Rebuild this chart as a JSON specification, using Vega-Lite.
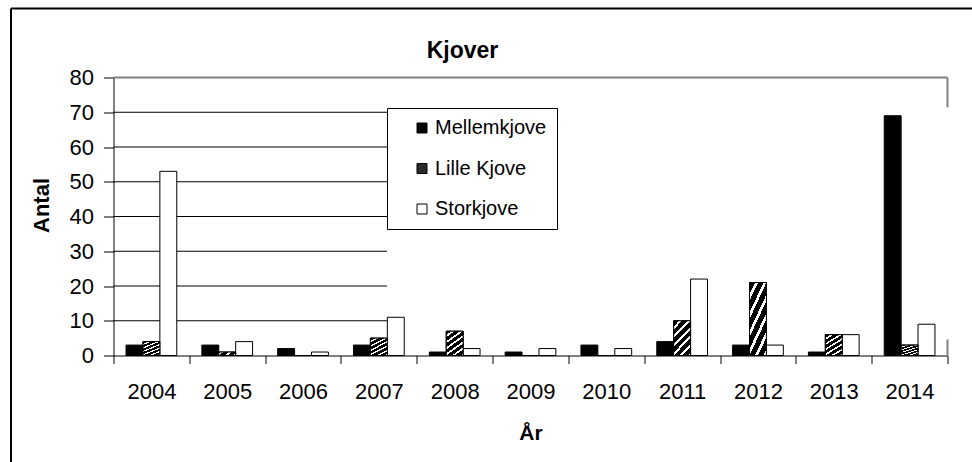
{
  "$schema": "https://vega.github.io/schema/vega-lite/v6.json",
  "width": 834,
  "height": 278,
  "autosize": {"type": "none"},
  "padding": {"left": 113.5, "top": 77.5, "right": 25, "bottom": 107},
  "background": "white",
  "config": {
    "font": "Liberation Sans",
    "view": {"stroke": null},
    "axisY": {"tickCount": 8, "grid": false, "labelOverlap": false, "tickSize": 10, "tickColor": "black", "domainColor": "black",
              "labelFontSize": 22, "labelColor": "black", "labelPadding": 10,
              "titleFontSize": 22, "titleFontWeight": "bold", "titleColor": "black", "titlePadding": 16, "titleY": 127.5},
    "axisX": {"titleFontSize": 21, "titleFontWeight": "bold", "titleColor": "black", "titlePadding": 20,
              "labelAngle": 0, "labelFontSize": 22, "labelColor": "black", "labelPadding": 18,
              "tickBand": "extent", "tickSize": 8, "tickColor": "black", "domainColor": "black", "grid": false}
  },
  "title": {"text": "Kjover", "fontSize": 23, "fontWeight": "bold", "color": "black", "anchor": "middle", "frame": "group", "baseline": "alphabetic", "offset": -73.5, "dx": -68},
  "datasets": {
    "kjover": [
      {"year": "2004", "series": "Mellemkjove", "value": 3}, {"year": "2004", "series": "Lille Kjove", "value": 4}, {"year": "2004", "series": "Storkjove", "value": 53},
      {"year": "2005", "series": "Mellemkjove", "value": 3}, {"year": "2005", "series": "Lille Kjove", "value": 1}, {"year": "2005", "series": "Storkjove", "value": 4},
      {"year": "2006", "series": "Mellemkjove", "value": 2}, {"year": "2006", "series": "Lille Kjove", "value": 0}, {"year": "2006", "series": "Storkjove", "value": 1},
      {"year": "2007", "series": "Mellemkjove", "value": 3}, {"year": "2007", "series": "Lille Kjove", "value": 5}, {"year": "2007", "series": "Storkjove", "value": 11},
      {"year": "2008", "series": "Mellemkjove", "value": 1}, {"year": "2008", "series": "Lille Kjove", "value": 7}, {"year": "2008", "series": "Storkjove", "value": 2},
      {"year": "2009", "series": "Mellemkjove", "value": 1}, {"year": "2009", "series": "Lille Kjove", "value": 0}, {"year": "2009", "series": "Storkjove", "value": 2},
      {"year": "2010", "series": "Mellemkjove", "value": 3}, {"year": "2010", "series": "Lille Kjove", "value": 0}, {"year": "2010", "series": "Storkjove", "value": 2},
      {"year": "2011", "series": "Mellemkjove", "value": 4}, {"year": "2011", "series": "Lille Kjove", "value": 10}, {"year": "2011", "series": "Storkjove", "value": 22},
      {"year": "2012", "series": "Mellemkjove", "value": 3}, {"year": "2012", "series": "Lille Kjove", "value": 21}, {"year": "2012", "series": "Storkjove", "value": 3},
      {"year": "2013", "series": "Mellemkjove", "value": 1}, {"year": "2013", "series": "Lille Kjove", "value": 6}, {"year": "2013", "series": "Storkjove", "value": 6},
      {"year": "2014", "series": "Mellemkjove", "value": 69}, {"year": "2014", "series": "Lille Kjove", "value": 3}, {"year": "2014", "series": "Storkjove", "value": 9}
    ]
  },
  "layer": [
    {
      "data": {"values": [{"g": 10}, {"g": 20}, {"g": 30}, {"g": 40}, {"g": 50}, {"g": 60}, {"g": 70}]},
      "mark": {"type": "rule", "color": "black", "strokeWidth": 1},
      "encoding": {
        "x": {"datum": 0, "type": "quantitative", "scale": {"domain": [0, 11]}, "axis": null},
        "x2": {"datum": 3.607},
        "y": {"field": "g", "type": "quantitative", "scale": {"domain": [0, 80], "nice": false}, "title": "Antal"}
      }
    },
    {
      "data": {"name": "kjover"},
      "mark": {"type": "bar", "stroke": "black", "strokeWidth": 1},
      "encoding": {
        "x": {"field": "year", "type": "nominal", "scale": {"paddingInner": 0, "paddingOuter": 0}, "title": "År"},
        "xOffset": {"field": "series", "scale": {"domain": ["Mellemkjove", "Lille Kjove", "Storkjove"], "paddingInner": 0, "paddingOuter": 0.742}},
        "y": {"field": "value", "type": "quantitative", "scale": {"domain": [0, 80], "nice": false}, "title": "Antal"},
        "fill": {
          "field": "series", "type": "nominal",
          "scale": {"domain": ["Mellemkjove", "Lille Kjove", "Storkjove"], "range": ["black", "#2b2b2b", "white"]},
          "legend": {
            "title": null, "orient": "none", "legendX": 273.5, "legendY": 30.5,
            "fillColor": "white", "strokeColor": "black", "padding": 10,
            "symbolType": "square", "symbolSize": 100, "symbolStrokeColor": "black", "symbolStrokeWidth": 1, "symbolOpacity": 1,
            "symbolOffset": 15, "labelOffset": 3, "labelFontSize": 20, "labelColor": "black", "rowPadding": 20.5,
            "encode": {"symbols": {"update": {"stroke": {"value": "black"}, "strokeWidth": {"value": 1}}}}
          }
        }
      }
    },
    {
      "data": {"name": "kjover"},
      "transform": [{"filter": "datum.series === 'Lille Kjove'"}],
      "mark": {"type": "bar", "stroke": "black", "strokeWidth": 1,
               "fill": {"gradient": "linear", "x1": 0, "y1": 0, "x2": 1, "y2": 2, "stops": [
                {"offset": 0, "color": "black"}, {"offset": 0.065, "color": "black"}, {"offset": 0.065, "color": "white"}, {"offset": 0.1, "color": "white"},
                {"offset": 0.1, "color": "black"}, {"offset": 0.165, "color": "black"}, {"offset": 0.165, "color": "white"}, {"offset": 0.2, "color": "white"},
                {"offset": 0.2, "color": "black"}, {"offset": 0.265, "color": "black"}, {"offset": 0.265, "color": "white"}, {"offset": 0.3, "color": "white"},
                {"offset": 0.3, "color": "black"}, {"offset": 0.365, "color": "black"}, {"offset": 0.365, "color": "white"}, {"offset": 0.4, "color": "white"},
                {"offset": 0.4, "color": "black"}, {"offset": 0.465, "color": "black"}, {"offset": 0.465, "color": "white"}, {"offset": 0.5, "color": "white"},
                {"offset": 0.5, "color": "black"}, {"offset": 0.565, "color": "black"}, {"offset": 0.565, "color": "white"}, {"offset": 0.6, "color": "white"},
                {"offset": 0.6, "color": "black"}, {"offset": 0.665, "color": "black"}, {"offset": 0.665, "color": "white"}, {"offset": 0.7, "color": "white"},
                {"offset": 0.7, "color": "black"}, {"offset": 1, "color": "black"}
              ]}},
      "encoding": {
        "x": {"field": "year", "type": "nominal", "scale": {"paddingInner": 0, "paddingOuter": 0}, "axis": null},
        "xOffset": {"field": "series", "scale": {"domain": ["Mellemkjove", "Lille Kjove", "Storkjove"], "paddingInner": 0, "paddingOuter": 0.742}},
        "y": {"field": "value", "type": "quantitative", "scale": {"domain": [0, 80], "nice": false}, "title": "Antal"}
      }
    },
    {
      "data": {"values": [{}]},
      "mark": {"type": "rule", "color": "#808080", "strokeWidth": 2},
      "encoding": {
        "x": {"datum": 0, "type": "quantitative", "scale": {"domain": [0, 11]}, "axis": null},
        "x2": {"datum": 11},
        "y": {"datum": 80, "type": "quantitative", "scale": {"domain": [0, 80], "nice": false}, "title": "Antal"}
      }
    },
    {
      "data": {"values": [{}]},
      "mark": {"type": "rule", "color": "#808080", "strokeWidth": 2},
      "encoding": {
        "x": {"datum": 11, "type": "quantitative", "scale": {"domain": [0, 11]}, "axis": null},
        "y": {"datum": 71.4, "type": "quantitative", "scale": {"domain": [0, 80], "nice": false}, "title": "Antal"},
        "y2": {"datum": 80}
      }
    },
    {
      "data": {"values": [{}]},
      "mark": {"type": "rule", "color": "#808080", "strokeWidth": 2},
      "encoding": {
        "x": {"datum": 11, "type": "quantitative", "scale": {"domain": [0, 11]}, "axis": null},
        "y": {"datum": 0, "type": "quantitative", "scale": {"domain": [0, 80], "nice": false}, "title": "Antal"},
        "y2": {"datum": 4.6}
      }
    },
    {
      "data": {"values": [{}]},
      "mark": {"type": "rule", "color": "black", "strokeWidth": 2},
      "encoding": {
        "x": {"datum": -1.352, "type": "quantitative", "scale": {"domain": [0, 11]}, "axis": null},
        "x2": {"datum": 11.6},
        "y": {"datum": 99.86, "type": "quantitative", "scale": {"domain": [0, 80], "nice": false}, "title": "Antal"}
      }
    },
    {
      "data": {"values": [{}]},
      "mark": {"type": "rule", "color": "black", "strokeWidth": 2},
      "encoding": {
        "x": {"datum": -1.352, "type": "quantitative", "scale": {"domain": [0, 11]}, "axis": null},
        "y": {"datum": 99.86, "type": "quantitative", "scale": {"domain": [0, 80], "nice": false}, "title": "Antal"},
        "y2": {"datum": -40}
      }
    }
  ],
  "resolve": {"scale": {"x": "independent"}}
}
